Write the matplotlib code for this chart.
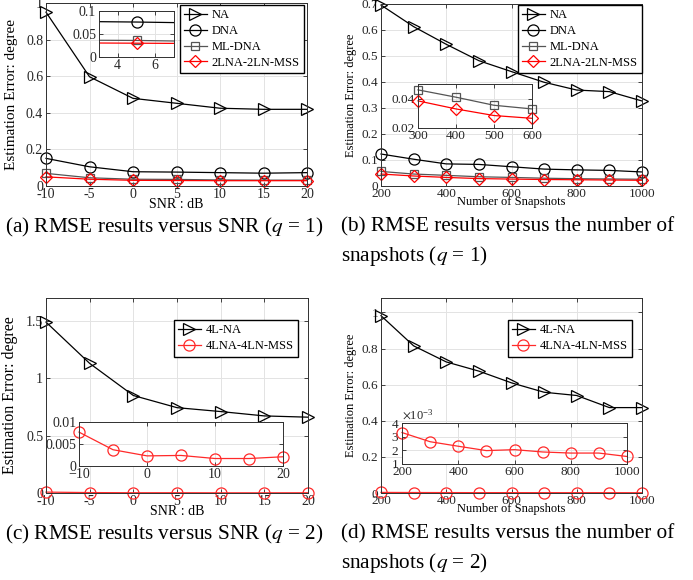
import numpy as np
import matplotlib.pyplot as plt
from matplotlib.ticker import FuncFormatter, MultipleLocator

plt.rcParams['font.family'] = ['Liberation Serif', 'DejaVu Serif']
plt.rcParams['mathtext.fontset'] = 'stix'

# x axes
snr = [-10, -5, 0, 5, 10, 15, 20]
snap = [200, 300, 400, 500, 600, 700, 800, 900, 1000]

# (a) q = 1, vs SNR
na_snr = [0.95, 0.597, 0.479, 0.452, 0.425, 0.419, 0.419]
dna_snr = [0.151, 0.105, 0.078, 0.076, 0.073, 0.070, 0.073]
mldna_snr = [0.069, 0.045, 0.037, 0.036, 0.033, 0.032, 0.032]
mss_snr = [0.050, 0.037, 0.031, 0.030, 0.029, 0.029, 0.029]

# (b) q = 1, vs snapshots
na_snap = [0.696, 0.613, 0.545, 0.482, 0.44, 0.399, 0.369, 0.363, 0.327]
dna_snap = [0.123, 0.103, 0.085, 0.083, 0.074, 0.065, 0.062, 0.060, 0.054]
mldna_snap = [0.056, 0.046, 0.041, 0.0355, 0.033, 0.030, 0.028, 0.027, 0.026]
mss_snap = [0.046, 0.0385, 0.033, 0.0285, 0.0266, 0.025, 0.024, 0.023, 0.022]

# (c) q = 2, vs SNR
na4_snr = [1.49, 1.13, 0.85, 0.744, 0.71, 0.672, 0.661]
mss4_snr = [0.0077, 0.0037, 0.0023, 0.0024, 0.0017, 0.0017, 0.0021]

# (d) q = 2, vs snapshots
na4_snap = [0.982, 0.815, 0.726, 0.675, 0.61, 0.558, 0.54, 0.473, 0.473]
mss4_snap = [0.0033, 0.00263, 0.0023, 0.00198, 0.00205, 0.00188, 0.0018, 0.0018, 0.00155]

W, H = 693, 580
fig = plt.figure(figsize=(W / 100, H / 100), dpi=100)

def box(l, t, r, b):
    # pixel box -> figure fraction
    return [l / W, 1 - b / H, (r - l) / W, (b - t) / H]

sty = {
    'NA': dict(color='k', marker='>', ms=8.5),
    'DNA': dict(color='k', marker='o', ms=8),
    'ML-DNA': dict(color='#555555', marker='s', ms=6),
    'MSS': dict(color='r', marker='D', ms=6.5),
    '4L-NA': dict(color='k', marker='>', ms=8.5),
    '4MSS': dict(color='#ff2a2a', marker='o', ms=8),
}

gfmt = FuncFormatter(lambda v, p: '%g' % round(v, 6))

def style_ax(ax, fs=10):
    ax.grid(True, color='#e3e3e3', lw=0.7)
    ax.set_axisbelow(True)
    for s in ax.spines.values():
        s.set_color('#303030')
        s.set_linewidth(0.7)
    ax.tick_params(direction='in', top=True, right=True, labelsize=fs,
                   colors='#262626', length=3, width=0.6, pad=2)
    ax.tick_params(axis='x', pad=1.5)

def line(ax, x, y, key, label=None, clip=False):
    s = sty[key]
    ax.plot(x, y, color=s['color'], lw=0.9, marker=s['marker'], ms=s['ms'],
            mfc='none', mec=s['color'], mew=0.9, label=label, clip_on=clip)

def legend(ax, r, t, fs=9.5):
    ax.legend(loc='upper right', bbox_to_anchor=(r / W, 1 - t / H),
              bbox_transform=fig.transFigure, borderaxespad=0,
              fancybox=False, framealpha=1, edgecolor='k', fontsize=fs,
              labelspacing=0.3, handlelength=1.8, handletextpad=0.4,
              borderpad=0.35)

# ---------- (a)
ax = fig.add_axes(box(46, 3, 307, 186))
line(ax, snr, na_snr, 'NA', 'NA')
line(ax, snr, dna_snr, 'DNA', 'DNA')
line(ax, snr, mldna_snr, 'ML-DNA', 'ML-DNA')
line(ax, snr, mss_snr, 'MSS', '2LNA-2LN-MSS')
ax.set_xlim(-10, 20)
ax.set_ylim(0, 1)
ax.xaxis.set_major_locator(MultipleLocator(5))
ax.yaxis.set_major_locator(MultipleLocator(0.2))
ax.xaxis.set_major_formatter(gfmt)
ax.yaxis.set_major_formatter(gfmt)
style_ax(ax)
ax.set_ylabel('Estimation Error: degree', fontsize=11, labelpad=6)
ax.set_xlabel('SNR : dB', fontsize=10, labelpad=-2)
legend(ax, 304, 5, 9)

ai = fig.add_axes(box(99, 11, 174, 57))
line(ai, snr, dna_snr, 'DNA', clip=True)
line(ai, snr, mldna_snr, 'ML-DNA', clip=True)
line(ai, snr, mss_snr, 'MSS', clip=True)
ai.set_xlim(3, 7)
ai.set_ylim(0, 0.1)
ai.set_xticks([4, 6])
ai.set_yticks([0, 0.05, 0.1])
ai.yaxis.set_major_formatter(gfmt)
style_ax(ai)

# ---------- (b)
ax = fig.add_axes(box(381, 4, 642, 186))
line(ax, snap, na_snap, 'NA', 'NA')
line(ax, snap, dna_snap, 'DNA', 'DNA')
line(ax, snap, mldna_snap, 'ML-DNA', 'ML-DNA')
line(ax, snap, mss_snap, 'MSS', '2LNA-2LN-MSS')
ax.set_xlim(200, 1000)
ax.set_ylim(0, 0.7)
ax.xaxis.set_major_locator(MultipleLocator(200))
ax.yaxis.set_major_locator(MultipleLocator(0.1))
ax.yaxis.set_major_formatter(gfmt)
style_ax(ax, 9.5)
ax.set_ylabel('Estimation Error: degree', fontsize=9, labelpad=3)
ax.set_xlabel('Number of Snapshots', fontsize=9, labelpad=-3)
legend(ax, 642, 5, 9)

bi = fig.add_axes(box(418, 84, 532, 128))
line(bi, snap[1:5], mldna_snap[1:5], 'ML-DNA')
line(bi, snap[1:5], mss_snap[1:5], 'MSS')
bi.set_xlim(300, 600)
bi.set_ylim(0.02, 0.05)
bi.set_xticks([300, 400, 500, 600])
bi.set_yticks([0.02, 0.04])
bi.yaxis.set_major_formatter(gfmt)
style_ax(bi, 9.5)

# ---------- (c)
ax = fig.add_axes(box(46, 298, 308, 493))
line(ax, snr, na4_snr, '4L-NA', '4L-NA')
line(ax, snr, mss4_snr, '4MSS', '4LNA-4LN-MSS')
ax.set_xlim(-10, 20)
ax.set_ylim(0, 1.7)
ax.xaxis.set_major_locator(MultipleLocator(5))
ax.set_yticks([0, 0.5, 1, 1.5])
ax.xaxis.set_major_formatter(gfmt)
ax.yaxis.set_major_formatter(gfmt)
style_ax(ax)
ax.set_ylabel('Estimation Error: degree', fontsize=11.5, labelpad=6)
ax.set_xlabel('SNR : dB', fontsize=10, labelpad=-2)
legend(ax, 298, 320, 9)

ci = fig.add_axes(box(79, 422, 283, 466))
line(ci, snr, mss4_snr, '4MSS')
ci.set_xlim(-10, 20)
ci.set_ylim(0, 0.01)
ci.set_xticks([-10, 0, 10, 20])
ci.set_yticks([0, 0.005, 0.01])
ci.yaxis.set_major_formatter(gfmt)
style_ax(ci)

# ---------- (d)
ax = fig.add_axes(box(381, 298, 642, 493))
line(ax, snap, na4_snap, '4L-NA', '4L-NA')
line(ax, snap, mss4_snap, '4MSS', '4LNA-4LN-MSS')
ax.set_xlim(200, 1000)
ax.set_ylim(0, 1.08)
ax.xaxis.set_major_locator(MultipleLocator(200))
ax.set_yticks([0, 0.2, 0.4, 0.6, 0.8, 1])
ax.yaxis.set_major_formatter(gfmt)
style_ax(ax, 9.5)
ax.set_ylabel('Estimation Error: degree', fontsize=9, labelpad=3)
ax.set_xlabel('Number of Snapshots', fontsize=9, labelpad=-3)
legend(ax, 632, 320, 9)

di = fig.add_axes(box(402, 423, 627, 464))
line(di, snap, mss4_snap, '4MSS')
di.set_xlim(200, 1000)
di.set_ylim(0.001, 0.004)
di.set_xticks([200, 400, 600, 800, 1000])
di.set_yticks([0.001, 0.002, 0.003, 0.004])
di.ticklabel_format(axis='y', style='sci', scilimits=(0, 0), useMathText=True)
style_ax(di, 9.5)
di.yaxis.get_offset_text().set_fontsize(9)

# ---------- captions
cfs = 15.3
fig.text(5 / W, 1 - 227 / H, r'(a) RMSE results versus SNR ($q$ = 1)', fontsize=cfs, va='center')
fig.text(341 / W, 1 - 227 / H, '(b) RMSE results versus the number of', fontsize=cfs, va='center')
fig.text(341 / W, 1 - 256 / H, r'snapshots ($q$ = 1)', fontsize=cfs, va='center')
fig.text(5 / W, 1 - 534 / H, r'(c) RMSE results versus SNR ($q$ = 2)', fontsize=cfs, va='center')
fig.text(341 / W, 1 - 534 / H, '(d) RMSE results versus the number of', fontsize=cfs, va='center')
fig.text(341 / W, 1 - 563 / H, r'snapshots ($q$ = 2)', fontsize=cfs, va='center')

fig.savefig('out.png', dpi=100)
